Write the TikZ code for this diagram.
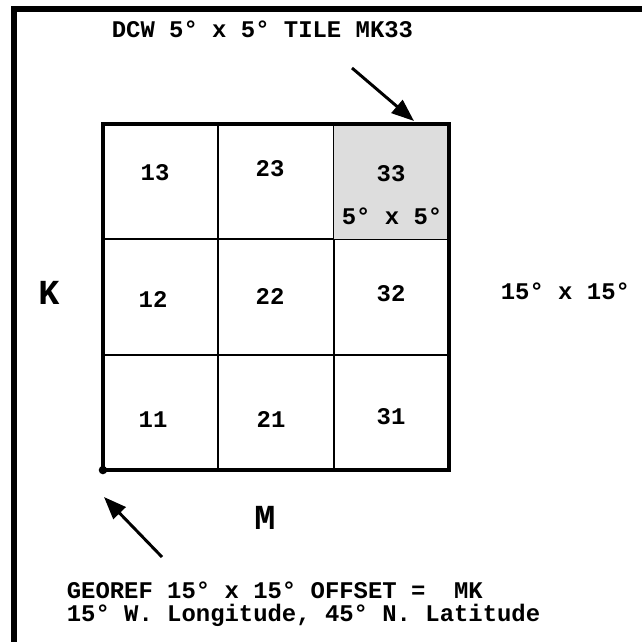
\documentclass[tikz,border=0pt]{standalone}
\usepackage{fontspec}
\usetikzlibrary{arrows.meta}
\newfontfamily\tilefont{Liberation Mono}
\definecolor{tilegray}{RGB}{221,221,221}

\begin{document}
\begin{tikzpicture}[x=0.025cm,y=-0.025cm,line width=1.2pt,
  >={Triangle[length=16pt,width=12pt]},
  cell/.style={draw,minimum size=2.885cm,inner sep=0pt,outer sep=0pt},
  txt/.style={font=\tilefont\bfseries\fontsize{17}{16}\selectfont,inner sep=0pt},
  big/.style={font=\tilefont\bfseries\fontsize{25}{25}\selectfont,inner sep=0pt}]
  \useasboundingbox (0,0) rectangle (641,642);
  % frame
  \draw[line width=4.3pt] (14,660) -- (14,9) -- (660,9);
  % 3x3 grid of 5 degree tiles
  \foreach \i in {1,2,3}
    \foreach \j in {1,2,3}
      \node[cell] (c\i\j) at ({103+115.3*(\i-0.5)},{470-115.3*(\j-0.5)}) {};
  \node[cell,fill=tilegray] at (c33) {};
  \draw[line width=2.8pt] (c13.north west) rectangle (c31.south east);
  \fill (c11.south west) circle[radius=3pt];
  % tile numbers
  \node[txt] (n13) at (155,173) {13};
  \node[txt] (n23) at (270,169) {23};
  \node[txt] (n33) at (391,174) {33};
  \node[txt] (n12) at (153,300) {12};
  \node[txt] (n22) at (270,297) {22};
  \node[txt] (n32) at (391,294) {32};
  \node[txt] (n11) at (153,420) {11};
  \node[txt] (n21) at (271,420) {21};
  \node[txt] (n31) at (391,417) {31};
  \node[txt] (tilesize) at (392,216) {5° x 5°};
  % letters and sizes
  \node[big] (K) at (49,293) {K};
  \node[big] (M) at (265,518) {M};
  \node[txt,anchor=base west] (blocksize) at (500,299) {15° x 15°};
  \node[txt,anchor=base west] (title) at (111,38) {DCW 5° x 5° TILE MK33};
  \node[txt,anchor=base west] (offset) at (66,598) {GEOREF 15° x 15° OFFSET =\ \ MK};
  \node[txt,anchor=base west] (lonlat) at (66,621) {15° W. Longitude, 45° N. Latitude};
  % arrows
  \coordinate (tilefrom) at (352,68);
  \coordinate (tileto) at (414,121);
  \coordinate (originfrom) at (162,557);
  \coordinate (originto) at (104,497);
  \draw[->,line width=2.1pt] (tilefrom) -- (tileto);
  \draw[->,line width=2.1pt] (originfrom) -- (originto);
\end{tikzpicture}
\end{document}
